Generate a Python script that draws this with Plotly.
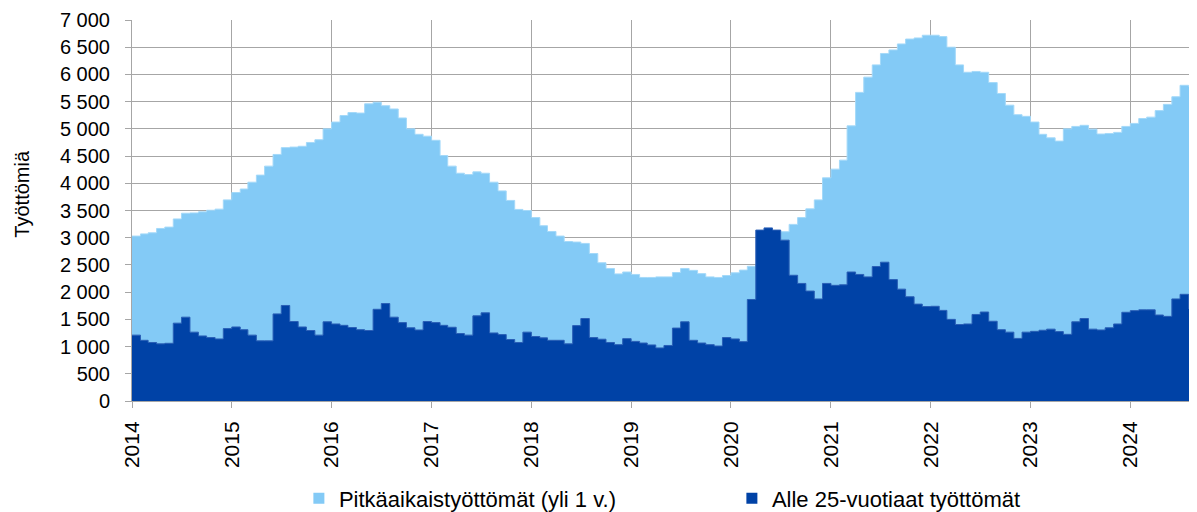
import pandas as pd
import plotly.graph_objects as go

# ---- data (monthly, Jan 2014 - Aug 2024) ----
months = pd.date_range("2014-01-01", periods=128, freq="MS")

long_term = [
    3030, 3070, 3090, 3170, 3195, 3345, 3450, 3455, 3475, 3505, 3525, 3695,  # 2014
    3830, 3895, 4020, 4150, 4315, 4530, 4655, 4665, 4680, 4750, 4800, 5000,  # 2015
    5125, 5245, 5300, 5290, 5460, 5490, 5425, 5365, 5200, 5000, 4900, 4865,  # 2016
    4790, 4510, 4315, 4185, 4160, 4210, 4185, 4020, 3860, 3685, 3520, 3500,  # 2017
    3370, 3220, 3115, 3030, 2930, 2920, 2895, 2710, 2540, 2435, 2335, 2370,  # 2018
    2325, 2270, 2270, 2280, 2280, 2360, 2435, 2400, 2340, 2280, 2270, 2305,  # 2019
    2355, 2405, 2475, 2500, 2600, 2800, 3110, 3245, 3370, 3530, 3695, 4100,  # 2020
    4260, 4425, 5055, 5670, 5950, 6175, 6385, 6450, 6560, 6650, 6670, 6720,  # 2021
    6720, 6695, 6500, 6175, 6040, 6055, 6040, 5850, 5650, 5435, 5260, 5230,  # 2022
    5125, 4900, 4835, 4775, 5000, 5045, 5065, 4995, 4905, 4915, 4935, 5045,  # 2023
    5100, 5190, 5215, 5335, 5450, 5590, 5800, 5785,                          # 2024
]

youth = [
    1210, 1115, 1075, 1050, 1060, 1430, 1540, 1265, 1195, 1165, 1140, 1330,  # 2014
    1360, 1310, 1210, 1105, 1105, 1600, 1755, 1460, 1360, 1295, 1210, 1455,  # 2015
    1415, 1390, 1350, 1310, 1295, 1685, 1790, 1540, 1440, 1345, 1305, 1460,  # 2016
    1440, 1390, 1355, 1240, 1210, 1565, 1620, 1250, 1220, 1130, 1075, 1265,  # 2017
    1185, 1160, 1115, 1115, 1050, 1385, 1515, 1165, 1135, 1075, 1035, 1145,  # 2018
    1095, 1065, 1030, 975, 1020, 1340, 1455, 1115, 1065, 1035, 1010, 1165,   # 2019
    1140, 1090, 1865, 3140, 3180, 3140, 2955, 2310, 2160, 2020, 1875, 2160,  # 2020
    2125, 2135, 2370, 2325, 2280, 2470, 2550, 2230, 2055, 1915, 1780, 1735,  # 2021
    1740, 1665, 1500, 1405, 1415, 1590, 1635, 1465, 1310, 1265, 1150, 1265,  # 2022
    1280, 1300, 1320, 1275, 1225, 1455, 1515, 1320, 1305, 1345, 1415, 1630,  # 2023
    1660, 1675, 1675, 1580, 1555, 1875, 1960, 1700,                          # 2024
]

year_ticks = list(range(2014, 2025))
series_names = ["Pitkäaikaistyöttömät (yli 1 v.)", "Alle 25-vuotiaat työttömät"]
y_title = "Työttömiä"

LIGHT = "#83CAF6"
DARK = "#0042A6"
GRID = "#a6a6a6"
FONT = "Liberation Sans, Arial, sans-serif"

# step areas: each month holds its value until the next month begins
step_x = list(months) + [months[-1] + pd.offsets.MonthBegin(1)]


def closed(values):
    return list(values) + [values[-1]]


fig = go.Figure()
fig.add_trace(go.Scatter(
    x=step_x, y=closed(long_term), mode="lines",
    line=dict(shape="hv", color="#a4d9f9", width=1),
    fill="tozeroy", fillcolor=LIGHT, showlegend=False, hoverinfo="skip",
))
fig.add_trace(go.Scatter(
    x=step_x, y=closed(youth), mode="lines",
    line=dict(shape="hv", color="#2a5fb6", width=1),
    fill="tozeroy", fillcolor=DARK, showlegend=False, hoverinfo="skip",
))
# legend entries (square swatches)
for name, col in zip(series_names, [LIGHT, DARK]):
    fig.add_trace(go.Scatter(
        x=[None], y=[None], mode="markers", name=name,
        marker=dict(symbol="square", size=11, color=col),
    ))

# the page body adds an 8 px margin, so the figure is 8 px smaller each way
fig.update_layout(
    width=1189, height=504,
    margin=dict(l=124, r=0, t=12, b=111, autoexpand=False),
    paper_bgcolor="white", plot_bgcolor="white",
    separators=", ",
    font=dict(family=FONT, color="black"),
    showlegend=True,
    legend=dict(
        orientation="h", x=0.1567, xanchor="left", y=-0.2555, yanchor="middle",
        font=dict(size=22, family=FONT), entrywidth=388, bgcolor="rgba(0,0,0,0)",
    ),
    annotations=[dict(
        text=y_title, textangle=-90, xref="paper", yref="paper",
        x=-0.103, y=0.545, xanchor="center", yanchor="middle",
        showarrow=False, font=dict(size=20, family=FONT),
    )],
)

fig.update_xaxes(
    type="date", range=[step_x[0], step_x[-1]],
    tickvals=[pd.Timestamp(f"{y}-01-01") for y in year_ticks],
    ticktext=[str(y) for y in year_ticks],
    tickangle=-90, tickfont=dict(size=21, family=FONT),
    ticks="outside", ticklen=6, tickcolor=GRID,
    showgrid=True, gridcolor=GRID, gridwidth=1,
    showline=True, linecolor=GRID, ticklabelstandoff=5,
    zeroline=False, automargin=False,
)
fig.update_yaxes(
    range=[0, 7000], dtick=500, tick0=0, tickformat=",d",
    tickfont=dict(size=20, family=FONT),
    ticks="outside", ticklen=6, tickcolor=GRID,
    showgrid=True, gridcolor=GRID, gridwidth=1,
    showline=True, linecolor=GRID, ticklabelstandoff=11,
    zeroline=False, automargin=False,
)

fig.write_html("out.html")
